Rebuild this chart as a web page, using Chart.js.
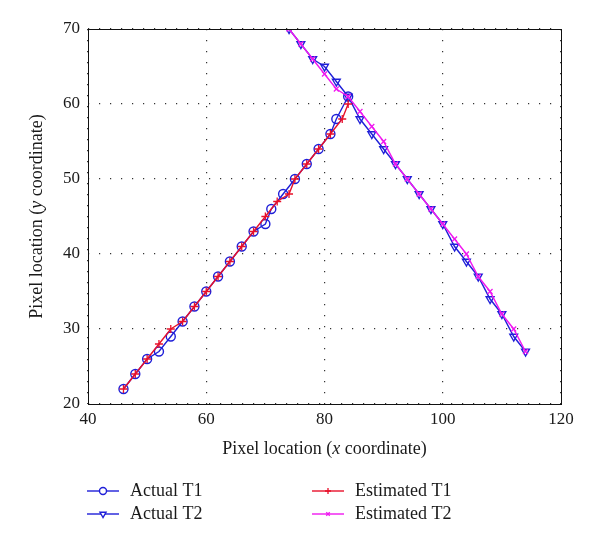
<!DOCTYPE html>
<html>
<head>
<meta charset="utf-8">
<script src="https://cdn.jsdelivr.net/npm/chart.js@4/dist/chart.umd.min.js"></script>
<style>
  html, body { margin: 0; padding: 0; background: #fff; }
  #wrap { width: 600px; height: 545px; }
</style>
</head>
<body>
<div id="wrap"><canvas id="trackChart" width="600" height="545"></canvas></div>
<script>
// values
const actualT1X = [46, 48, 50, 52, 54, 56, 58, 60, 62, 64, 66, 68, 70, 71, 73, 75, 77, 79, 81, 82, 84];
const actualT1Y = [22, 24, 26, 27, 29, 31, 33, 35, 37, 39, 41, 43, 44, 46, 48, 50, 52, 54, 56, 58, 61];
const estT1X = [46, 48, 50, 52, 54, 56, 58, 60, 62, 64, 66, 68, 70, 72, 74, 75, 77, 79, 81, 83, 84];
const estT1Y = [22, 24, 26, 28, 30, 31, 33, 35, 37, 39, 41, 43, 45, 47, 48, 50, 52, 54, 56, 58, 60];
const actualT2X = [74, 76, 78, 80, 82, 84, 86, 88, 90, 92, 94, 96, 98, 100, 102, 104, 106, 108, 110, 112, 114];
const actualT2Y = [70, 68, 66, 65, 63, 61, 58, 56, 54, 52, 50, 48, 46, 44, 41, 39, 37, 34, 32, 29, 27];
const estT2X = [74, 76, 78, 80, 82, 84, 86, 88, 90, 92, 94, 96, 98, 100, 102, 104, 106, 108, 110, 112, 114];
const estT2Y = [70, 68, 66, 64, 62, 61, 59, 57, 55, 52, 50, 48, 46, 44, 42, 40, 37, 35, 32, 30, 27];

const xTicks = [40, 60, 80, 100, 120];
const yTicks = [20, 30, 40, 50, 60, 70];

const FONT = '"Liberation Serif", "DejaVu Serif", serif';
const TEXT = '#1a1a1a';

function pts(xs, ys) {
    return xs.map((x, i) => ({ x: x, y: ys[i] }));
}

// legend layout: two columns, two rows (like the matlab one)
const legendSlots = [
    { col: 0, row: 0 },  // Actual T1
    { col: 0, row: 1 },  // Actual T2
    { col: 1, row: 0 },  // Estimated T1
    { col: 1, row: 1 }   // Estimated T2
];

function drawParts(ctx, parts, size) {
    // parts: [text, italic]
    let total = 0;
    parts.forEach(p => {
        ctx.font = (p[1] ? 'italic ' : '') + size + 'px ' + FONT;
        total += ctx.measureText(p[0]).width;
    });
    let x = -total / 2;
    parts.forEach(p => {
        ctx.font = (p[1] ? 'italic ' : '') + size + 'px ' + FONT;
        ctx.fillText(p[0], x, 0);
        x += ctx.measureText(p[0]).width;
    });
}

const framePlugin = {
    id: 'frameAndLegend',
    afterDraw(chart) {
        const ctx = chart.ctx;
        const a = chart.chartArea;
        ctx.save();
        ctx.strokeStyle = '#111';
        ctx.lineWidth = 1;
        ctx.strokeRect(Math.round(a.left) + 0.5, Math.round(a.top) + 0.5,
            Math.round(a.right - a.left), Math.round(a.bottom - a.top));

        // axis titles with italic x / y
        ctx.fillStyle = TEXT;
        ctx.textBaseline = 'middle';
        ctx.textAlign = 'left';
        ctx.save();
        ctx.translate((a.left + a.right) / 2, 449);
        drawParts(ctx, [['Pixel location (', false], ['x', true], [' coordinate)', false]], 18);
        ctx.restore();

        ctx.save();
        ctx.translate(37, (a.top + a.bottom) / 2);
        ctx.rotate(-Math.PI / 2);
        drawParts(ctx, [['Pixel location (', false], ['y', true], [' coordinate)', false]], 18);
        ctx.restore();

        // legend
        chart.data.datasets.forEach((ds, i) => {
            const slot = legendSlots[i];
            const x0 = slot.col === 0 ? 87 : 312;
            const y0 = slot.row === 0 ? 491 : 514;
            ctx.strokeStyle = ds.borderColor;
            ctx.lineWidth = ds.borderWidth;
            ctx.beginPath();
            ctx.moveTo(x0, y0);
            ctx.lineTo(x0 + 32, y0);
            ctx.stroke();
            ctx.fillStyle = '#fff';
            ctx.lineWidth = ds.pointBorderWidth;
            Chart.helpers.drawPoint(ctx, {
                pointStyle: ds.pointStyle,
                radius: ds.pointRadius - 1,
                rotation: ds.pointRotation || 0,
                borderWidth: ds.pointBorderWidth
            }, x0 + 16, y0);
            ctx.fillStyle = TEXT;
            ctx.font = '18px ' + FONT;
            ctx.fillText(ds.label, x0 + 43, y0);
        });
        ctx.restore();
    }
};

const ctx = document.getElementById('trackChart').getContext('2d');
new Chart(ctx, {
    type: 'scatter',
    data: {
        datasets: [{
            label: 'Actual T1',
            data: pts(actualT1X, actualT1Y),
            borderColor: '#1f1fd8',
            backgroundColor: 'rgba(0,0,0,0)',
            borderWidth: 1.4,
            showLine: true,
            pointStyle: 'circle',
            pointRadius: 4.5,
            pointBorderWidth: 1.4,
            order: 2
        }, {
            label: 'Actual T2',
            data: pts(actualT2X, actualT2Y),
            borderColor: '#1f1fd8',
            backgroundColor: 'rgba(0,0,0,0)',
            borderWidth: 1.4,
            showLine: true,
            pointStyle: 'triangle',
            pointRotation: 180,
            pointRadius: 4.5,
            pointBorderWidth: 1.4,
            order: 2
        }, {
            label: 'Estimated T1',
            data: pts(estT1X, estT1Y),
            borderColor: '#e8102a',
            backgroundColor: 'rgba(0,0,0,0)',
            borderWidth: 1.4,
            showLine: true,
            pointStyle: 'cross',
            pointRadius: 4,
            pointBorderWidth: 1.3,
            order: 1
        }, {
            label: 'Estimated T2',
            data: pts(estT2X, estT2Y),
            borderColor: '#f018f0',
            backgroundColor: 'rgba(0,0,0,0)',
            borderWidth: 1.4,
            showLine: true,
            pointStyle: 'crossRot',
            pointRadius: 3.5,
            pointBorderWidth: 1.3,
            order: 1
        }]
    },
    options: {
        responsive: false,
        animation: false,
        layout: { padding: { left: 28, right: 39, top: 29, bottom: 111 } },
        plugins: {
            legend: { display: false },
            tooltip: { enabled: false }
        },
        scales: {
            x: {
                type: 'linear',
                min: 40,
                max: 120,
                afterBuildTicks: axis => { axis.ticks = xTicks.map(v => ({ value: v })); },
                afterFit: axis => { axis.height = 30; },
                grid: { color: '#333', lineWidth: 1.2, tickLength: 0, drawTicks: false },
                border: { display: false, dash: [1.2, 9.8] },
                ticks: { color: TEXT, font: { family: FONT, size: 17 }, padding: 5, maxRotation: 0 }
            },
            y: {
                type: 'linear',
                min: 20,
                max: 70,
                afterBuildTicks: axis => { axis.ticks = yTicks.map(v => ({ value: v })); },
                afterFit: axis => { axis.width = 60; },
                grid: { color: '#333', lineWidth: 1.2, tickLength: 0, drawTicks: false },
                border: { display: false, dash: [1.2, 9.8] },
                ticks: { color: TEXT, font: { family: FONT, size: 17 }, padding: 8 }
            }
        }
    },
    plugins: [framePlugin]
});
</script>
</body>
</html>
